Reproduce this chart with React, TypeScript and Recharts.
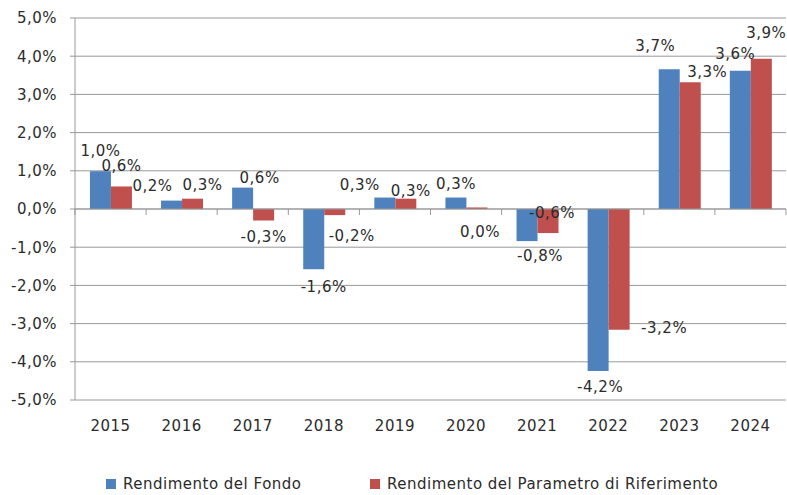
import React from 'react';
import { BarChart, Bar, XAxis, YAxis, CartesianGrid, ReferenceLine, Legend, LabelList } from 'recharts';

const years = ['2015', '2016', '2017', '2018', '2019', '2020', '2021', '2022', '2023', '2024'];
const fondo = [0.99, 0.22, 0.56, -1.58, 0.3, 0.3, -0.84, -4.24, 3.66, 3.62];
const parametro = [0.59, 0.27, -0.3, -0.16, 0.27, 0.04, -0.63, -3.16, 3.32, 3.93];
const yTicks = [-5, -4, -3, -2, -1, 0, 1, 2, 3, 4, 5];

const SERIES_FONDO = 'Rendimento del Fondo';
const SERIES_PARAM = 'Rendimento del Parametro di Riferimento';

// label placement offsets (style only), relative to the bar end
const fondoLabelOffsets: [number, number][] = [
  [0, -20], [-19, -15], [17, -10], [10, 18], [-25, -13], [0, -14], [13, 15], [2, 16], [-14, -23], [-5, -17],
];
const paramLabelOffsets: [number, number][] = [
  [0, -20], [10, -14], [0, 17], [17, 21], [5, -8], [3, 25], [4, -20], [45, -2], [17, -10], [5, -26],
];

const data = years.map((y, i) => ({ year: y, fondo: fondo[i], parametro: parametro[i] }));

const FONT = '"DejaVu Sans", Verdana, sans-serif';
const BLUE = '#4F81BD';
const RED = '#C0504D';
const GRID = '#999999';
const TEXT = '#2b2b2b';
const LS = '0.5px';

const fmt = (v: number) => v.toFixed(1).replace('.', ',') + '%';

const makeLabel = (offsets: [number, number][]) => (props: any) => {
  const { x, y, width, height, value, index } = props;
  const top = Math.min(y, y + height);
  const bottom = Math.max(y, y + height);
  const anchor = value >= 0 ? top : bottom;
  const [dx, dy] = offsets[index] || [0, 0];
  return (
    <text
      x={x + width / 2 + dx}
      y={anchor + dy}
      textAnchor="middle"
      dominantBaseline="central"
      fontFamily={FONT}
      fontSize={15}
      letterSpacing={LS}
      fill={TEXT}
    >
      {fmt(value)}
    </text>
  );
};

const ZeroAxis = (props: any) => {
  const { x1, y1, x2, y2 } = props;
  const n = years.length;
  const step = (x2 - x1) / n;
  const ticks = [];
  for (let i = 0; i <= n; i++) {
    const tx = x1 + step * i;
    ticks.push(<line key={i} x1={tx} x2={tx} y1={y1} y2={y1 + 6} stroke={GRID} strokeWidth={1} />);
  }
  return (
    <g>
      <line x1={x1} y1={y1} x2={x2} y2={y2} stroke={GRID} strokeWidth={1} />
      {ticks}
    </g>
  );
};

const LegendContent = () => (
  <div style={{ position: 'relative', height: 55, fontFamily: FONT, fontSize: 15, letterSpacing: LS, color: TEXT }}>
    <div style={{ position: 'absolute', left: 106, top: 35, display: 'flex', alignItems: 'center', whiteSpace: 'nowrap' }}>
      <span style={{ display: 'inline-block', width: 10, height: 10, background: BLUE, marginRight: 7 }} />
      <span>{SERIES_FONDO}</span>
    </div>
    <div style={{ position: 'absolute', left: 370, top: 35, display: 'flex', alignItems: 'center', whiteSpace: 'nowrap' }}>
      <span style={{ display: 'inline-block', width: 10, height: 10, background: RED, marginRight: 7 }} />
      <span>{SERIES_PARAM}</span>
    </div>
  </div>
);

export default function App() {
  return (
    <div style={{ position: 'absolute', left: 0, top: 0, width: 787, height: 495, background: '#fff' }}>
      <BarChart
        width={787}
        height={495}
        data={data}
        margin={{ top: 18, right: 1, bottom: 0, left: 0 }}
        barCategoryGap="21%"
        barGap={0}
      >
        <CartesianGrid vertical={false} stroke={GRID} strokeDasharray="" />
        <XAxis
          dataKey="year"
          axisLine={false}
          tickLine={false}
          height={40}
          tickSize={0}
          tickMargin={20}
          tick={{ fontFamily: FONT, fontSize: 15, fill: TEXT, letterSpacing: LS }}
          interval={0}
        />
        <YAxis
          domain={[-5, 5]}
          ticks={yTicks}
          width={75}
          tickFormatter={fmt}
          axisLine={{ stroke: GRID }}
          tickLine={{ stroke: GRID }}
          tickSize={5}
          tickMargin={13}
          tick={{ fontFamily: FONT, fontSize: 15, fill: TEXT, letterSpacing: LS }}
          interval={0}
        />
        <ReferenceLine y={0} shape={ZeroAxis} />
        <Legend verticalAlign="bottom" height={55} content={LegendContent} />
        <Bar dataKey="fondo" name={SERIES_FONDO} fill={BLUE} isAnimationActive={false}>
          <LabelList dataKey="fondo" content={makeLabel(fondoLabelOffsets)} />
        </Bar>
        <Bar dataKey="parametro" name={SERIES_PARAM} fill={RED} isAnimationActive={false}>
          <LabelList dataKey="parametro" content={makeLabel(paramLabelOffsets)} />
        </Bar>
      </BarChart>
    </div>
  );
}
